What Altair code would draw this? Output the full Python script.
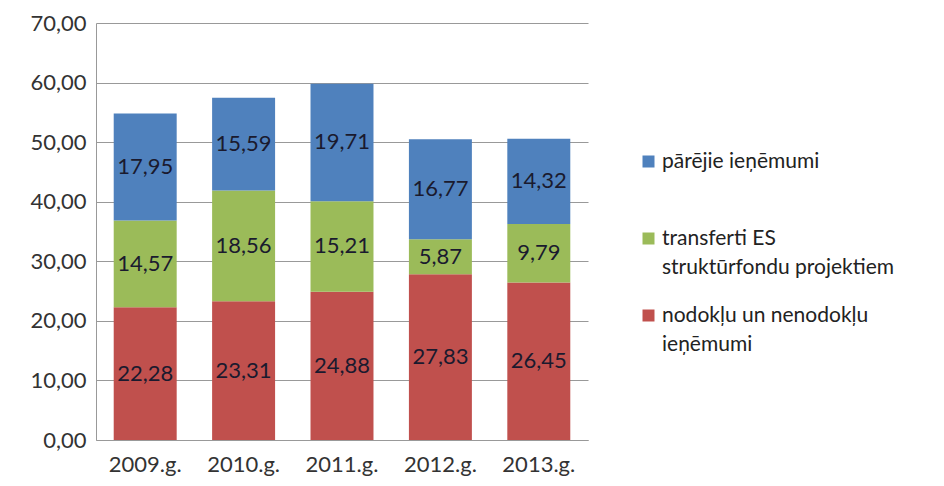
import altair as alt
import pandas as pd

years = ["2009.g.", "2010.g.", "2011.g.", "2012.g.", "2013.g."]
series = ["pārējie ieņēmumi", "transferti ES struktūrfondu projektiem", "nodokļu un nenodokļu ieņēmumi"]
nodoklu = [22.28, 23.31, 24.88, 27.83, 26.45]
transferti = [14.57, 18.56, 15.21, 5.87, 9.79]
parejie = [17.95, 15.59, 19.71, 16.77, 14.32]
colors = ["#4F81BD", "#9BBB59", "#C0504D"]

rows = []
for i, y in enumerate(years):
    rows.append({"year": y, "series": series[2], "value": nodoklu[i], "ord": 0})
    rows.append({"year": y, "series": series[1], "value": transferti[i], "ord": 1})
    rows.append({"year": y, "series": series[0], "value": parejie[i], "ord": 2})
df = pd.DataFrame(rows)

FONT = "Lato"

base = alt.Chart(df).transform_calculate(
    lab="replace(format(datum.value, '.2f'), '.', ',')"
)

xaxis = alt.Axis(labelAngle=0, labelFontSize=22, labelPadding=14, ticks=False, grid=False,
                 domain=True, domainColor="#999999", labelColor="#333333", labelFont=FONT)

bars = base.mark_bar().encode(
    x=alt.X("year:N", sort=years, title=None,
            scale=alt.Scale(paddingInner=0.36, paddingOuter=0.18), axis=xaxis),
    y=alt.Y("value:Q", stack="zero", title=None,
            scale=alt.Scale(domain=[0, 70], nice=False),
            axis=alt.Axis(values=[0, 10, 20, 30, 40, 50, 60, 70], ticks=False,
                          labelExpr="replace(format(datum.value, '.2f'), '.', ',')",
                          labelFontSize=22, labelPadding=10, labelColor="#333333", labelFont=FONT,
                          gridColor="#999999", gridWidth=1, domainColor="#999999")),
    color=alt.Color("series:N",
                    scale=alt.Scale(domain=series, range=colors),
                    legend=alt.Legend(title=None, orient="none", legendX=542, legendY=128,
                                      symbolType="square", symbolSize=144, symbolStrokeWidth=0,
                                      labelFontSize=21, labelFont=FONT, labelColor="#222222",
                                      labelLimit=400, rowPadding=26, labelOffset=3,
                                      labelExpr="datum.label == 'transferti ES struktūrfondu projektiem' ? ['transferti ES', 'struktūrfondu projektiem'] : datum.label == 'nodokļu un nenodokļu ieņēmumi' ? ['nodokļu un nenodokļu', 'ieņēmumi'] : [datum.label, '']")),
    order=alt.Order("ord:Q"),
)

text = base.transform_stack(
    stack="value", groupby=["year"], as_=["y0", "y1"], sort=[alt.SortField("ord")]
).transform_calculate(mid="(datum.y0 + datum.y1) / 2").mark_text(
    fontSize=22, font=FONT, color="#1a1a2e"
).encode(
    x=alt.X("year:N", sort=years, axis=None),
    y=alt.Y("mid:Q", axis=None),
    text="lab:N",
)

chart = alt.layer(bars, text).resolve_axis(
    x="independent", y="independent"
).properties(
    width=492, height=417,
    autosize=alt.AutoSizeParams(type="none"),
    padding={"left": 88, "top": 15, "right": 348, "bottom": 38},
    view=alt.ViewBackground(stroke="transparent", strokeWidth=0),
).configure_view(strokeWidth=0, stroke="transparent").configure(
    background="white",
    style={"guide-label": {"lineHeight": 29}},
)

chart.save("out.html", embed_options={"renderer": "svg", "actions": False})
